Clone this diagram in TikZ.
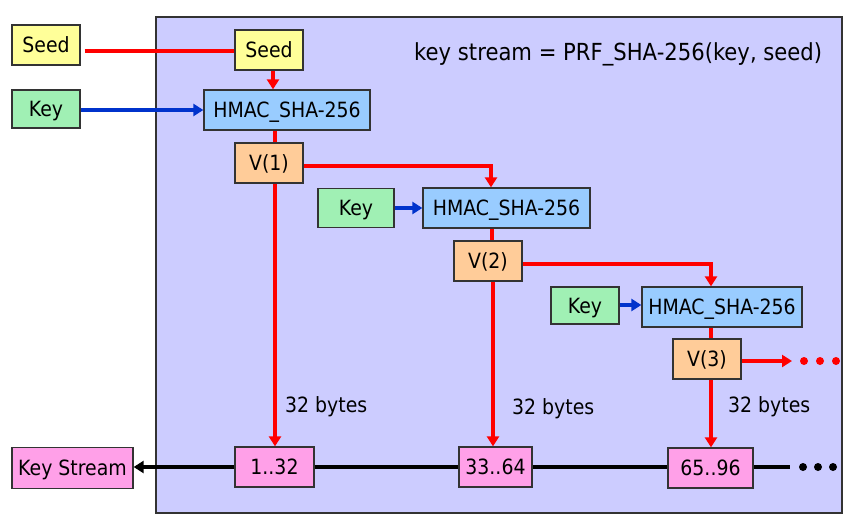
\documentclass[tikz,border=0pt]{standalone}
\usepackage{fontspec}
\setmainfont{DejaVu Sans}[FakeStretch=0.9]
\usetikzlibrary{arrows.meta,calc}
\definecolor{seedc}{HTML}{FFFF99}
\definecolor{keyc}{HTML}{A0F0B4}
\definecolor{hmacc}{HTML}{99CCFF}
\definecolor{vc}{HTML}{FFCC99}
\definecolor{outc}{HTML}{FFA0E8}
\definecolor{bgc}{HTML}{CCCCFF}
\definecolor{redc}{HTML}{FF0000}
\definecolor{bluec}{HTML}{0033CC}
\definecolor{edgec}{HTML}{333333}
\tikzset{
  box/.style={draw=edgec, line width=1.3pt, rectangle, inner sep=0pt,
    text height=15.3pt, text depth=0pt,
    font=\fontsize{21}{25}\selectfont},
  seedbox/.style={box, fill=seedc},
  keybox/.style={box, fill=keyc},
  hmacbox/.style={box, fill=hmacc},
  vbox/.style={box, fill=vc},
  outbox/.style={box, fill=outc},
  redline/.style={draw=redc, line width=3.5pt},
  redarrow/.style={redline, -{Triangle[length=10pt,width=12pt]}},
  bluearrow/.style={draw=bluec, line width=3.5pt, -{Triangle[length=10pt,width=12pt]}},
  blackline/.style={draw=black, line width=4pt},
  blackarrow/.style={blackline, -{Triangle[length=10pt,width=12pt]}},
  lbl/.style={inner sep=0pt, text height=15.3pt, text depth=0pt, font=\fontsize{21}{25}\selectfont},
  reddot/.style={circle, fill=redc, inner sep=0pt, minimum size=8pt},
  blackdot/.style={circle, fill=black, inner sep=0pt, minimum size=8pt},
}
\begin{document}
\begin{tikzpicture}[x=1pt,y=-1pt]
\useasboundingbox (0,0) rectangle (849,522);
\node[draw=edgec, line width=1.3pt, fill=bgc, minimum width=686pt, minimum height=496pt, inner sep=0pt] (bg) at (499,265) {};
\node[lbl, anchor=west, text height=17pt, font=\fontsize{23.5}{28}\selectfont] (title) at (414,52) {key stream = PRF\_SHA-256(key, seed)};
% nodes
\node[seedbox, minimum width=68pt, minimum height=40pt] (seedo) at (46,45) {Seed};
\node[keybox, minimum width=68pt, minimum height=38pt] (keyo) at (46,109) {Key};
\node[seedbox, minimum width=68pt, minimum height=40pt] (seedi) at (269,50) {Seed};
\node[hmacbox, minimum width=166pt, minimum height=40pt] (hm1) at (287,110) {HMAC\_SHA-256};
\node[vbox, minimum width=68pt, minimum height=40pt] (v1) at (269,163) {V(1)};
\node[keybox, minimum width=76pt, minimum height=39pt] (key2) at (356,208) {Key};
\node[hmacbox, minimum width=167pt, minimum height=40pt] (hm2) at (506.5,208) {HMAC\_SHA-256};
\node[vbox, minimum width=68pt, minimum height=40pt] (v2) at (488,261) {V(2)};
\node[keybox, minimum width=68pt, minimum height=37pt] (key3) at (585,305.5) {Key};
\node[hmacbox, minimum width=160pt, minimum height=40pt] (hm3) at (722,307) {HMAC\_SHA-256};
\node[vbox, minimum width=68pt, minimum height=40pt] (v3) at (707,359) {V(3)};
\node[outbox, minimum width=121pt, minimum height=41pt] (ks) at (72.5,468) {Key Stream};
\node[outbox, minimum width=79pt, minimum height=40pt] (b1) at (274.5,467) {1..32};
\node[outbox, minimum width=73pt, minimum height=40pt] (b2) at (495.5,467) {33..64};
\node[outbox, minimum width=85pt, minimum height=40pt] (b3) at (710.5,468) {65..96};
\node[lbl, anchor=west] (l1) at (285,405) {32 bytes};
\node[lbl, anchor=west] (l2) at (512,407) {32 bytes};
\node[lbl, anchor=west] (l3) at (728,405) {32 bytes};
% helper coordinates
\coordinate (c1) at (491,166);
\coordinate (c2) at (711,264);
\coordinate (e3) at (792,361);
\coordinate (e4) at (790,467);
\node[reddot] (rd1) at (804,361) {};
\node[reddot] (rd2) at (820,361) {};
\node[reddot] (rd3) at (836,361) {};
\node[blackdot] (bd1) at (803,467) {};
\node[blackdot] (bd2) at (818,467) {};
\node[blackdot] (bd3) at (833,467) {};
% connectors
\draw[redline] ([xshift=4pt]seedo.east |- 0,51) -- (seedi.west |- 0,51);
\draw[redarrow] (seedi.south -| 273,0) -- (hm1.north -| 273,0);
\draw[bluearrow] (keyo.east |- 0,110) -- (hm1.west |- 0,110);
\draw[redline] (hm1.south -| 275,0) -- (v1.north -| 275,0);
\draw[redarrow] (v1.south -| 275,0) -- (b1.north -| 275,0);
\draw[redarrow] (v1.east |- c1) -- (c1) -- (hm2.north -| c1);
\draw[bluearrow] (key2.east |- 0,208) -- (hm2.west |- 0,208);
\draw[redline] (hm2.south -| 492,0) -- (v2.north -| 492,0);
\draw[redarrow] (v2.south -| 493,0) -- (b2.north -| 493,0);
\draw[redarrow] (v2.east |- c2) -- (c2) -- (hm3.north -| c2);
\draw[bluearrow] (key3.east |- 0,305) -- (hm3.west |- 0,305);
\draw[redline] (hm3.south -| 711,0) -- (v3.north -| 711,0);
\draw[redarrow] (v3.south -| 711,0) -- (b3.north -| 711,0);
\draw[redarrow] (v3.east |- e3) -- (e3);
\draw[blackarrow] (b1.west |- 0,467) -- (ks.east |- 0,467);
\draw[blackline] (b1.east |- 0,467) -- (b2.west |- 0,467);
\draw[blackline] (b2.east |- 0,467) -- (b3.west |- 0,467);
\draw[blackline] (b3.east |- e4) -- (e4);
\end{tikzpicture}
\end{document}
